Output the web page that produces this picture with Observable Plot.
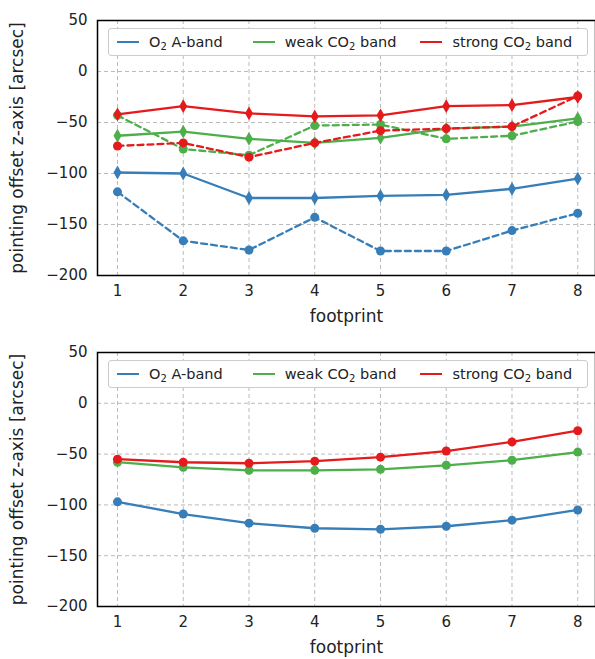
<!DOCTYPE html>
<html><head><meta charset="utf-8">
<script src="https://cdn.jsdelivr.net/npm/d3@7"></script>
<script src="https://cdn.jsdelivr.net/npm/@observablehq/plot@0.6"></script>
<style>
body{margin:0;background:#fff;font-family:"DejaVu Sans",sans-serif;}
.wrap{position:relative;width:595px;}
.leg{position:absolute;border:1px solid #ccc;background:#fff;border-radius:3px;font-size:14.5px;color:#222;display:flex;align-items:center;height:28px;box-sizing:border-box;}
.it{display:flex;align-items:center;margin-left:8px;margin-right:10px;white-space:nowrap;}
.ln{width:22px;height:2.5px;margin-right:10px;}
.sb{font-size:10px;position:relative;top:4px;}
</style></head><body>
<div id="c"></div>
<script>
const footprints = [1,2,3,4,5,6,7,8];
const colors = {o2:"#377eb8", weak:"#4daf4a", strong:"#e41a1c"};
// top panel
const o2Solid = [-99,-100,-124,-124,-122,-121,-115,-105];
const o2Dashed = [-118,-166,-175,-143,-176,-176,-156,-139];
const weakSolid = [-63,-59,-66,-70,-65,-56,-54,-46];
const weakDashed = [-43,-76,-82,-53,-52,-66,-63,-49];
const strongSolid = [-42,-34,-41,-44,-43,-34,-33,-25];
const strongDashed = [-73,-70,-84,-70,-58,-56,-54,-24];
// bottom panel
const o2Bottom = [-97,-109,-118,-123,-124,-121,-115,-105];
const weakBottom = [-58,-63,-66,-66,-65,-61,-56,-48];
const strongBottom = [-55,-58,-59,-57,-53,-47,-38,-27];
const yTicks = [50,0,-50,-100,-150,-200];

function rows(vals){return footprints.map((f,i)=>({x:f,y:vals[i]}));}
const thinDiamond = {draw(ctx,size){const r=Math.sqrt(size)/2;ctx.moveTo(0,-r*1.3);ctx.lineTo(r*0.75,0);ctx.lineTo(0,r*1.3);ctx.lineTo(-r*0.75,0);ctx.closePath();}};

function panel(series, height, mt, mb){
  const marks = [
    Plot.gridX(footprints,{stroke:"#bbb",strokeOpacity:1,strokeDasharray:"4,3"}),
    Plot.gridY(yTicks,{stroke:"#bbb",strokeOpacity:1,strokeDasharray:"4,3"}),
  ];
  for(const s of series){
    const d = rows(s.v);
    marks.push(Plot.line(d,{x:"x",y:"y",stroke:s.c,strokeWidth:2.3,strokeDasharray:s.dash?"6,4":null}));
    marks.push(Plot.dot(d,{x:"x",y:"y",fill:s.c,r:s.sym==="d"?6:4.5,symbol:s.sym==="d"?thinDiamond:"circle"}));
  }
  marks.push(Plot.frame({stroke:"#000",strokeWidth:1.5}));
  return Plot.plot({
    width:595,height,marginTop:mt,marginBottom:mb,marginLeft:97,marginRight:0,
    style:{fontFamily:"DejaVu Sans",fontSize:"15px",color:"#222"},
    x:{domain:[0.696,8.27],ticks:footprints,tickSize:0,tickPadding:10,label:null,tickFormat:d=>d},
    y:{domain:[-200,50],ticks:yTicks,tickSize:0,tickPadding:10,label:null,tickFormat:d=>d<0?"−"+(-d):d},
    marks:[...marks,
      Plot.text(["footprint"],{frameAnchor:"bottom",dy:46,fontSize:17}),
      Plot.text(["pointing offset z-axis [arcsec]"],{frameAnchor:"left",textAnchor:"middle",dx:-80,rotate:-90,fontSize:17})
    ]
  });
}
function legend(top){
  const d=document.createElement("div");d.className="leg";
  d.style.left="108px";d.style.top=top+"px";d.style.width="480px";
  d.innerHTML=`<span class="it"><span class="ln" style="background:${colors.o2}"></span>O<span class="sb">2</span>&nbsp;A-band</span>
  <span class="it" style="margin-left:20px"><span class="ln" style="background:${colors.weak}"></span>weak CO<span class="sb">2</span>&nbsp;band</span>
  <span class="it" style="margin-left:14px"><span class="ln" style="background:${colors.strong}"></span>strong CO<span class="sb">2</span>&nbsp;band</span>`;
  return d;
}
const c=document.getElementById("c");
const w1=document.createElement("div");w1.className="wrap";
w1.appendChild(panel([
  {v:o2Dashed,c:colors.o2,dash:true,sym:"o"},
  {v:o2Solid,c:colors.o2,sym:"d"},
  {v:weakDashed,c:colors.weak,dash:true,sym:"o"},
  {v:weakSolid,c:colors.weak,sym:"d"},
  {v:strongDashed,c:colors.strong,dash:true,sym:"o"},
  {v:strongSolid,c:colors.strong,sym:"d"},
],330,20,55));
w1.appendChild(legend(28));
c.appendChild(w1);
const w2=document.createElement("div");w2.className="wrap";
w2.appendChild(panel([
  {v:o2Bottom,c:colors.o2,sym:"o"},
  {v:weakBottom,c:colors.weak,sym:"o"},
  {v:strongBottom,c:colors.strong,sym:"o"},
],329,22,53));
w2.appendChild(legend(30));
c.appendChild(w2);
</script></body></html>
